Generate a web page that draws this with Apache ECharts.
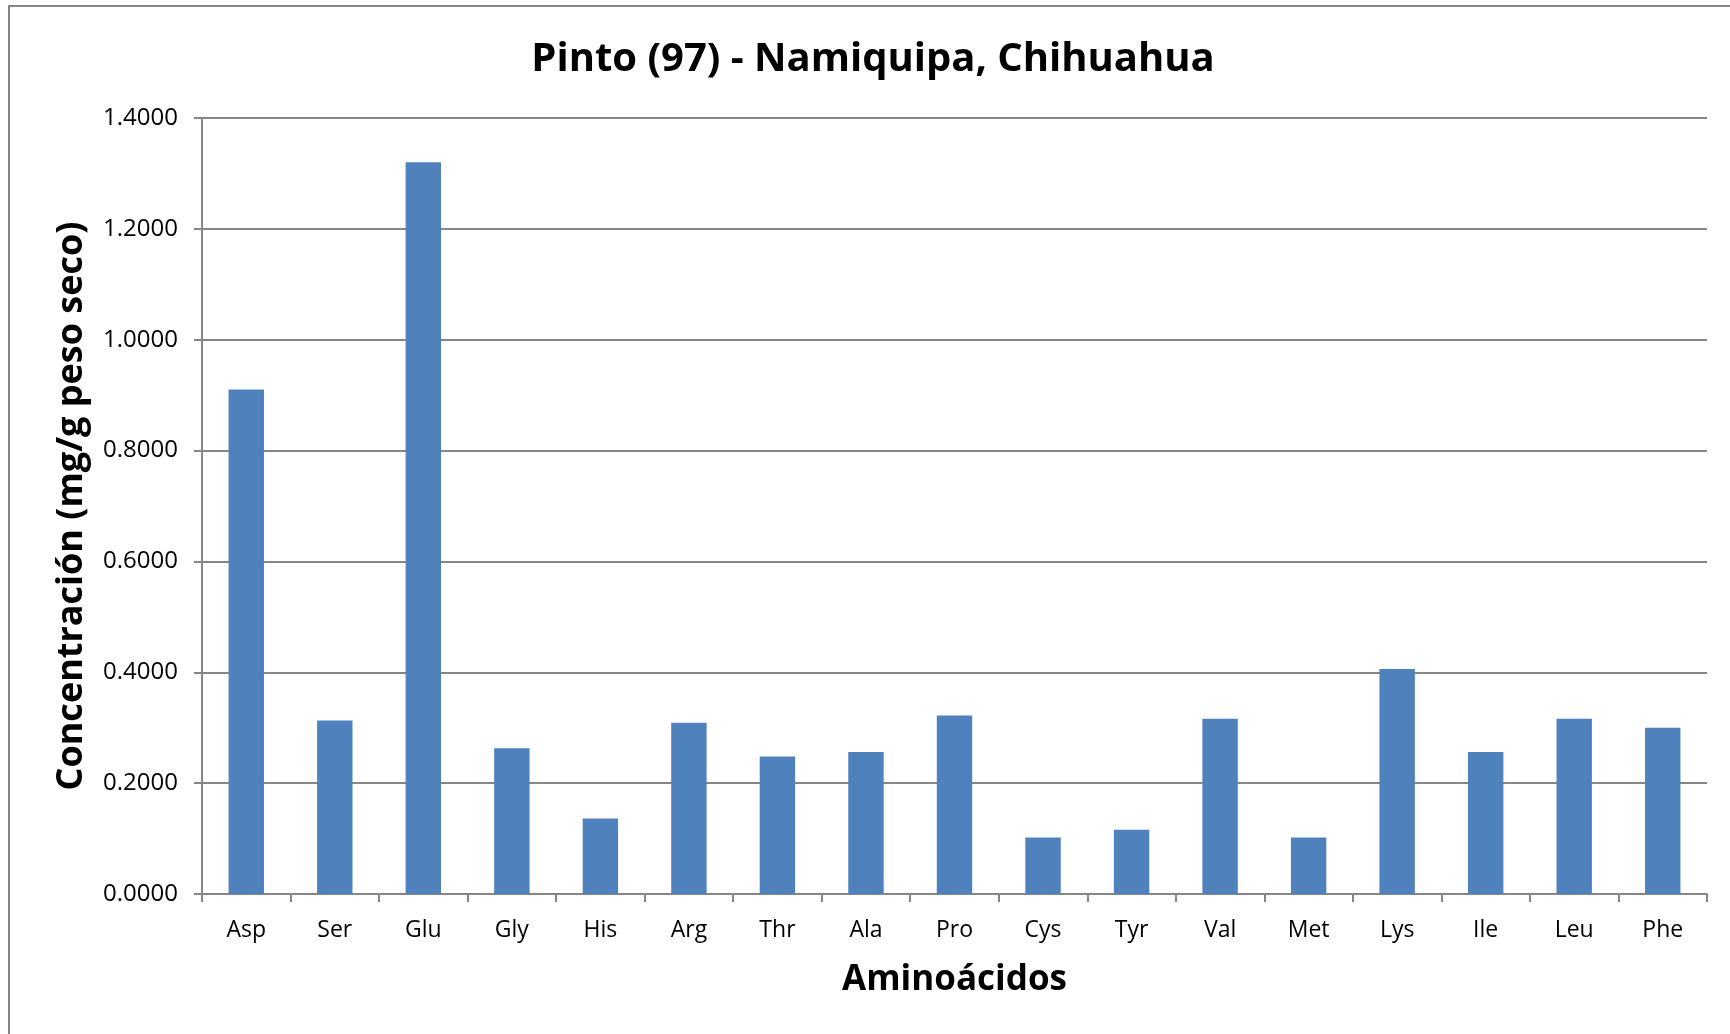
<!DOCTYPE html>
<html>
<head>
<meta charset="utf-8">
<script src="https://cdn.jsdelivr.net/npm/echarts@6/dist/echarts.min.js"></script>
<style>
  html, body { margin: 0; padding: 0; background: #fff; }
  #main { width: 1730px; height: 1034px; }
</style>
</head>
<body>
<div id="main"></div>
<script>
// aminoacidos y concentraciones
var categories = ['Asp', 'Ser', 'Glu', 'Gly', 'His', 'Arg', 'Thr', 'Ala', 'Pro', 'Cys', 'Tyr', 'Val', 'Met', 'Lys', 'Ile', 'Leu', 'Phe'];
var concentracion = [0.910, 0.313, 1.320, 0.263, 0.136, 0.309, 0.248, 0.256, 0.322, 0.102, 0.116, 0.316, 0.102, 0.406, 0.256, 0.316, 0.300];
var yMin = 0;
var yMax = 1.4;
var yStep = 0.2;

var font = '"Open Sans", sans-serif';
var gris = '#868686';

var chart = echarts.init(document.getElementById('main'));
var option = {
    backgroundColor: '#ffffff',
    animation: false,
    title: {
        text: 'Pinto (97) - Namiquipa, Chihuahua',
        left: 868,
        textAlign: 'center',
        top: 35,
        textStyle: {
            fontFamily: font,
            fontWeight: 'bold',
            fontSize: 40,
            color: '#000'
        }
    },
    graphic: [{
        type: 'rect',
        shape: { x: 9, y: 6, width: 1760, height: 1100 },
        style: { fill: 'none', stroke: gris, lineWidth: 2 },
        silent: true
    }],
    grid: {
        left: 202,
        right: 23,
        top: 118,
        bottom: 140
    },
    xAxis: {
        type: 'category',
        data: categories,
        name: 'Aminoácidos',
        nameLocation: 'middle',
        nameGap: 69,
        nameTextStyle: {
            fontFamily: font,
            fontWeight: 'bold',
            fontSize: 35,
            color: '#000'
        },
        axisLine: { lineStyle: { color: gris, width: 2 } },
        axisTick: { show: true, length: 8, lineStyle: { color: gris, width: 2 } },
        axisLabel: {
            margin: 25,
            fontFamily: font,
            fontSize: 23,
            color: '#000'
        }
    },
    yAxis: {
        type: 'value',
        min: yMin,
        max: yMax,
        interval: yStep,
        name: 'Concentración (mg/g peso seco)',
        nameLocation: 'middle',
        nameGap: 112,
        nameTextStyle: {
            fontFamily: font,
            fontWeight: 'bold',
            fontSize: 36,
            color: '#000'
        },
        axisLine: { show: true, lineStyle: { color: gris, width: 2 } },
        axisTick: { show: true, length: 8, lineStyle: { color: gris, width: 2 } },
        splitLine: { show: true, lineStyle: { color: gris, width: 2 } },
        axisLabel: {
            margin: 24,
            fontFamily: font,
            fontSize: 24,
            color: '#000',
            formatter: function (v) { return v.toFixed(4); }
        }
    },
    series: [{
        name: 'Concentración',
        type: 'bar',
        data: concentracion,
        barCategoryGap: '60%',
        itemStyle: { color: '#4F81BD' }
    }]
};
chart.setOption(option);
</script>
</body>
</html>
